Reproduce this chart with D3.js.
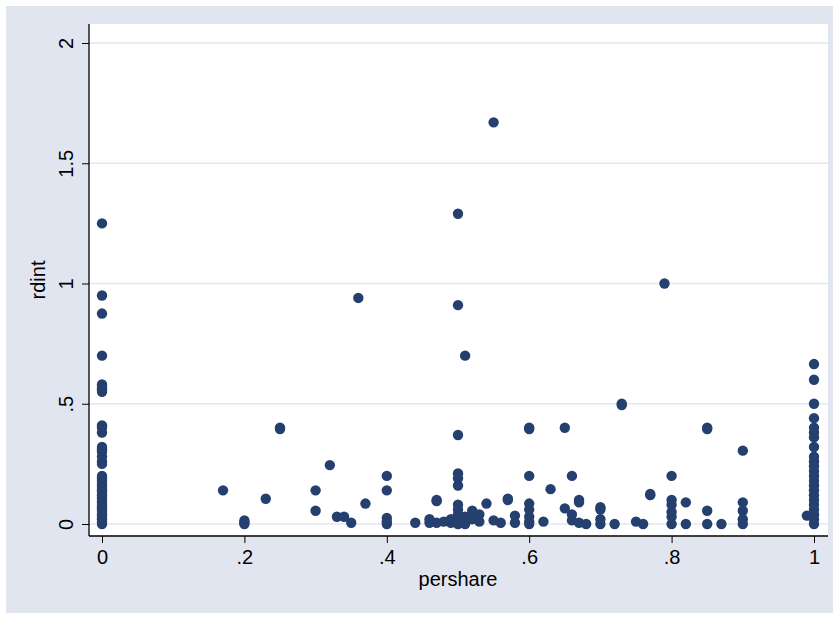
<!DOCTYPE html><html><head><meta charset="utf-8">
<script src="https://cdn.jsdelivr.net/npm/d3@7"></script>
<style>body{margin:0;background:#fff}</style></head><body><svg id="c" width="839" height="619"></svg>
<script>
const xTicks=[0,.2,.4,.6,.8,1];
const xTickLabels=["0",".2",".4",".6",".8","1"];
const yTicks=[0,.5,1,1.5,2];
const yTickLabels=["0",".5","1","1.5","2"];
const pershare=[0,0,0,0,0,0,0,0,0,0,0,0,0,0,0,0,0,0,0,0,0,0,0,0,0,0,0,0,0,0,0,0,0,0,0,0,0,0,
.17,.2,.2,.2,.23,.25,.25,.3,.3,.32,.33,.34,.35,.36,.37,.4,.4,.4,.4,.4,.44,.46,.46,.47,.47,.47,.48,.49,.49,
.5,.5,.5,.5,.5,.5,.5,.5,.5,.5,.5,.5,.5,.51,.51,.51,.52,.52,.53,.53,.54,.55,.55,.56,.57,.57,.58,.58,
.6,.6,.6,.6,.6,.6,.6,.6,.62,.63,.65,.65,.66,.66,.66,.67,.67,.67,.68,.7,.7,.7,.7,.72,.73,.73,.75,.76,.77,.77,.79,
.8,.8,.8,.8,.8,.8,.82,.82,.85,.85,.85,.85,.87,.9,.9,.9,.9,.9,.99,
1,1,1,1,1,1,1,1,1,1,1,1,1,1,1,1,1,1,1,1,1,1,1];
const rdint=[1.25,.95,.875,.70,.58,.57,.56,.55,.41,.40,.38,.32,.31,.30,.28,.26,.25,.2,.19,.18,.17,.16,.15,.14,.13,.12,.11,.10,.09,.08,.07,.06,.05,.04,.03,.02,.01,0,
.14,.015,.005,0,.105,.40,.395,.14,.055,.245,.03,.03,.005,.94,.085,.20,.14,.025,.01,0,.005,.02,.005,.1,.095,.005,.01,.02,.005,
1.29,.91,.37,.21,.19,.16,.08,.06,.04,.03,.02,.01,0,.70,.03,0,.055,.02,.04,.01,.085,1.67,.015,.005,.10,.105,.035,.005,
.40,.395,.20,.085,.06,.03,.01,0,.01,.145,.40,.065,.20,.04,.015,.10,.09,.005,0,.07,.06,.02,0,0,.50,.495,.01,0,.125,.12,1.0,
.20,.10,.08,.05,.03,0,.09,0,.40,.395,.055,0,0,.305,.09,.055,.02,0,.035,
.665,.60,.50,.44,.40,.38,.36,.32,.28,.26,.24,.22,.20,.18,.16,.14,.12,.10,.08,.06,.04,.02,0];
const svg=d3.select("#c");
svg.append("rect").attr("width",839).attr("height",619).attr("fill","#fff");
svg.append("rect").attr("x",6).attr("y",6).attr("width",827).attr("height",607).attr("fill","#e0e5ef");
svg.append("rect").attr("x",89).attr("y",24).attr("width",739).attr("height",512).attr("fill","#fff");
const x=d3.scaleLinear().domain([0,1]).range([102,814]);
const y=d3.scaleLinear().domain([0,2]).range([524,43]);
svg.append("g").selectAll("line").data(yTicks).join("line").attr("x1",89).attr("x2",828)
 .attr("y1",d=>y(d)).attr("y2",d=>y(d)).attr("stroke","#e3e7f0").attr("stroke-width",1.5);
const font="'Liberation Sans',Arial,sans-serif";
const gx=svg.append("g").attr("transform","translate(0,536)").call(d3.axisBottom(x).tickValues(xTicks).tickFormat((d,i)=>xTickLabels[i]).tickSize(7).tickSizeOuter(0));
gx.select(".domain").attr("d","M89,0H828").attr("stroke","#000").attr("stroke-width",1.3);
gx.attr("font-size",null).attr("font-family",null);
gx.selectAll("text").style("font-family",font).style("font-size","20px").attr("fill","#000").attr("y",10).attr("dy","0.9em");
const gy=svg.append("g").attr("transform","translate(89,0)").call(d3.axisLeft(y).tickValues(yTicks).tickFormat((d,i)=>yTickLabels[i]).tickSize(7).tickSizeOuter(0));
gy.attr("font-size",null).attr("font-family",null);
gy.select(".domain").attr("d","M0,24V536").attr("stroke","#000").attr("stroke-width",1.3);
gy.selectAll(".tick").each(function(d){d3.select(this).select("text").style("font-family",font).style("font-size","20px").attr("fill","#000")
 .attr("transform","rotate(-90)").attr("x",0).attr("y",-12).attr("dy","-0.2em").attr("text-anchor","middle");});
svg.append("text").attr("x",458).attr("y",586).attr("text-anchor","middle").style("font-family",font).style("font-size","20px").text("pershare");
svg.append("text").attr("transform","translate(45,280) rotate(-90)").attr("text-anchor","middle").style("font-family",font).style("font-size","20px").text("rdint");
svg.append("g").selectAll("circle").data(pershare).join("circle").attr("cx",d=>x(d)).attr("cy",(d,i)=>y(rdint[i])).attr("r",5.2).attr("fill","#25406e");
</script></body></html>
